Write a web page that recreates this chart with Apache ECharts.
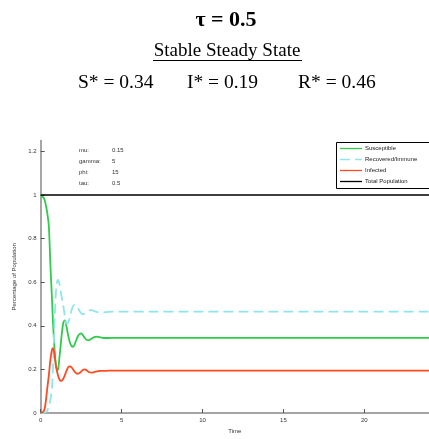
<!DOCTYPE html>
<html>
<head>
<meta charset="utf-8">
<script src="https://cdn.jsdelivr.net/npm/echarts@6/dist/echarts.min.js"></script>
<style>html,body{margin:0;padding:0;background:#fff;}#c{width:429px;height:439px;}</style>
</head>
<body>
<div id="c"></div>
<script>
var time = [0,0.2,0.3,0.4,0.5,0.6,0.7,0.75,0.8,0.85,0.9,0.96,1.06,1.15,1.22,1.3,1.4,1.5,1.6,1.7,1.8,1.9,2.0,2.1,2.2,2.3,2.4,2.5,2.6,2.7,2.8,2.9,3.0,3.15,3.3,3.5,3.7,3.9,4.2,4.6,5,6,8,12,16,20,24];
var susceptible = [1.0,0.985,0.96,0.92,0.86,0.68,0.52,0.43,0.36,0.3,0.25,0.21,0.197,0.25,0.3,0.36,0.415,0.425,0.395,0.355,0.325,0.308,0.304,0.315,0.335,0.352,0.362,0.365,0.358,0.347,0.338,0.334,0.335,0.341,0.348,0.35,0.347,0.344,0.344,0.345,0.345,0.345,0.345,0.345,0.345,0.345,0.345];
var recovered = [0,0,0.003,0.01,0.03,0.06,0.12,0.2,0.3,0.41,0.5,0.57,0.61,0.595,0.565,0.53,0.49,0.44,0.41,0.415,0.44,0.47,0.49,0.497,0.492,0.482,0.468,0.458,0.453,0.455,0.461,0.467,0.471,0.472,0.468,0.463,0.461,0.462,0.464,0.465,0.465,0.465,0.465,0.465,0.465,0.465,0.465];
var infected = [0,0.01,0.045,0.11,0.17,0.245,0.29,0.297,0.29,0.27,0.24,0.21,0.175,0.155,0.148,0.148,0.158,0.175,0.195,0.21,0.214,0.21,0.2,0.19,0.182,0.18,0.183,0.19,0.197,0.2,0.198,0.192,0.187,0.185,0.188,0.191,0.193,0.193,0.194,0.194,0.194,0.194,0.194,0.194,0.194,0.194,0.194];
var total = [1,1,1,1,1,1,1,1,1,1,1,1,1,1,1,1,1,1,1,1,1,1,1,1,1,1,1,1,1,1,1,1,1,1,1,1,1,1,1,1,1,1,1,1,1,1,1];
var seriesNames = ['Susceptible','Recovered/Immune','Infected','Total Population'];
var paramLabels = ['mu:','gamma:','phi:','tau:'];
var paramValues = ['0.15','5','15','0.5'];

function pairs(ys){ return time.map(function(t,i){return [t, ys[i]];}); }

var chart = echarts.init(document.getElementById('c'), null, {renderer:'canvas'});
var sans = 'Liberation Sans, Arial, sans-serif';
var serif = 'Liberation Serif, Times New Roman, serif';

var colors = ['#2ecc4a','#8ee6ea','#ff4a22','#000000'];
var dashes = [null,[10,5],null,null];

var graphics = [
  {type:'text', x:226, y:20, style:{text:'τ = 0.5', font:'bold 22px '+serif, fill:'#000', textAlign:'center', textVerticalAlign:'middle'}},
  {type:'text', x:227, y:51, style:{text:'Stable Steady State', font:'19px '+serif, fill:'#000', textAlign:'center', textVerticalAlign:'middle'}},
  {type:'line', shape:{x1:153, y1:60.5, x2:302, y2:60.5}, style:{stroke:'#000', lineWidth:1}},
  {type:'text', x:78, y:83, style:{text:'S* = 0.34', font:'19.5px '+serif, fill:'#000', textAlign:'left', textVerticalAlign:'middle'}},
  {type:'text', x:187, y:83, style:{text:'I* = 0.19', font:'19.5px '+serif, fill:'#000', textAlign:'left', textVerticalAlign:'middle'}},
  {type:'text', x:298, y:83, style:{text:'R* = 0.46', font:'19.5px '+serif, fill:'#000', textAlign:'left', textVerticalAlign:'middle'}},
  {type:'rect', shape:{x:336.5, y:142.5, width:100, height:46}, style:{fill:'#fff', stroke:'#000', lineWidth:1}, z:10}
];
var py = [150,161,172,183];
for (var i=0;i<paramLabels.length;i++){
  graphics.push({type:'text', x:79, y:py[i], style:{text:paramLabels[i], font:'6px '+sans, fill:'#333', textVerticalAlign:'middle'}});
  graphics.push({type:'text', x:112, y:py[i], style:{text:paramValues[i], font:'6px '+sans, fill:'#333', textVerticalAlign:'middle'}});
}
var ly = [148.5,159.5,170.5,181.5];
for (var j=0;j<seriesNames.length;j++){
  graphics.push({type:'line', z:11, shape:{x1:340, y1:ly[j], x2:362, y2:ly[j]}, style:{stroke:colors[j], lineWidth:1.3, lineDash:dashes[j]||null}});
  graphics.push({type:'text', z:11, x:365, y:ly[j], style:{text:seriesNames[j], font:'6px '+sans, fill:'#222', textVerticalAlign:'middle'}});
}

var datas = [susceptible, recovered, infected, total];
var series = seriesNames.map(function(n,i){
  return {
    name:n, type:'line', data:pairs(datas[i]), symbol:'none', smooth:0.35,
    lineStyle:{color:colors[i], width: i===3?1.6:1.8, type: i===1?[10,5]:'solid'},
    itemStyle:{color:colors[i]}, z: i===3?5:2, animation:false
  };
});

chart.setOption({
  animation:false,
  backgroundColor:'#fff',
  grid:{left:40.7, right:-3.6, top:140.5, bottom:26, containLabel:false},
  xAxis:{
    type:'value', min:0, max:24, interval:5,
    name:'Time', nameLocation:'middle', nameGap:13,
    nameTextStyle:{fontFamily:sans, fontSize:6, color:'#333'},
    axisLine:{show:true, lineStyle:{color:'#888', width:1.5}},
    axisTick:{show:true, inside:true, length:4, lineStyle:{color:'#555'}},
    axisLabel:{fontFamily:sans, fontSize:6, color:'#333', margin:4, showMaxLabel:false},
    splitLine:{show:false}
  },
  yAxis:{
    type:'value', min:0, max:1.25, interval:0.2,
    name:'Percentage of Population', nameLocation:'middle', nameGap:17, nameRotate:90,
    nameTextStyle:{fontFamily:sans, fontSize:6, color:'#333'},
    axisLine:{show:true, lineStyle:{color:'#888', width:1.5}},
    axisTick:{show:true, inside:true, length:4, lineStyle:{color:'#555'}},
    axisLabel:{fontFamily:sans, fontSize:6, color:'#333', margin:4, showMaxLabel:false,
      formatter:function(v){return String(Math.round(v*10)/10);}},
    splitLine:{show:false}
  },
  graphic:graphics,
  series:series
});
</script>
</body>
</html>
